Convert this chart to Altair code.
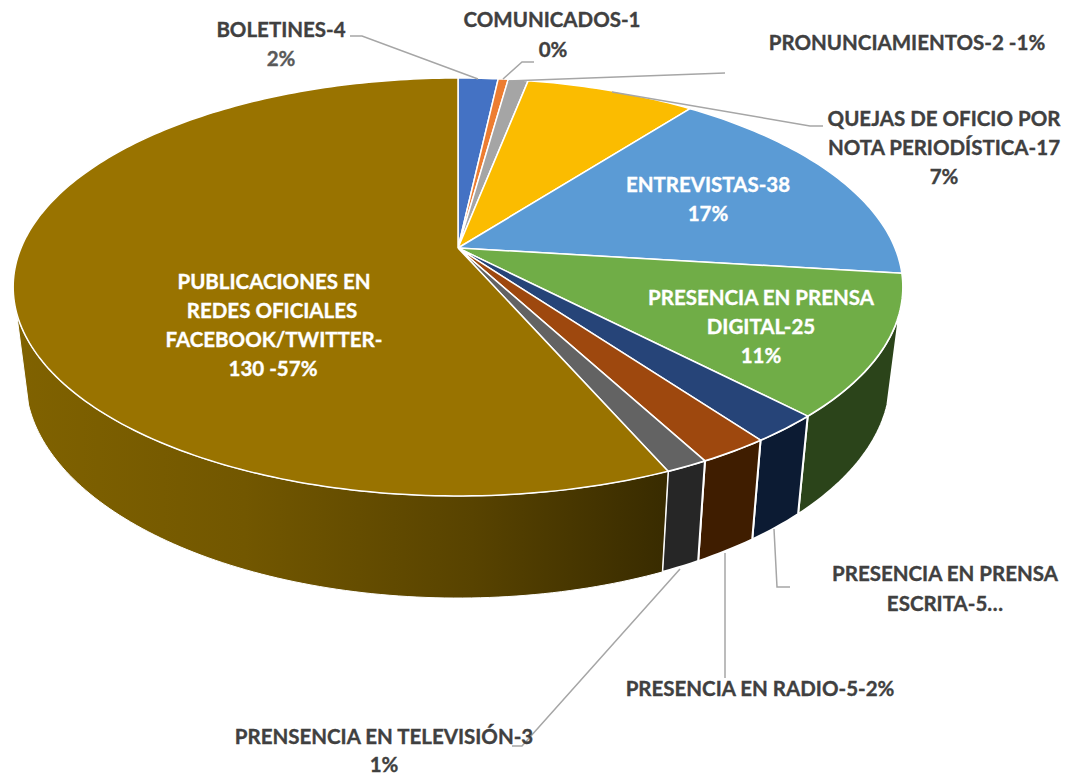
import math
import altair as alt
import pandas as pd

categories = ["BOLETINES", "COMUNICADOS", "PRONUNCIAMIENTOS", "QUEJAS DE OFICIO POR NOTA PERIODÍSTICA",
              "ENTREVISTAS", "PRESENCIA EN PRENSA DIGITAL", "PRESENCIA EN PRENSA ESCRITA",
              "PRESENCIA EN RADIO", "PRENSENCIA EN TELEVISIÓN", "PUBLICACIONES EN REDES OFICIALES"]
values = [4, 1, 2, 17, 38, 25, 5, 5, 3, 130]
top_colors = ["#4472C4", "#ED7D31", "#A5A5A5", "#FBBC00", "#5B9BD5", "#70AD47", "#264478", "#9E480E", "#636363", "#997300"]
wall_colors = [None, None, None, None, None, "#2B441A", "#0C1B33", "#3F1D00", "#262626", None]
gold_wall_stops = [(0.0, "#806200"), (0.35, "#725700"), (0.7, "#584300"), (1.0, "#382B00")]

LABELS = [
    ("BOLETINES-4", 281, 31, "#404040"), ("2%", 281, 60, "#595959"),
    ("COMUNICADOS-1", 552, 21, "#404040"), ("0%", 553, 51, "#404040"),
    ("PRONUNCIAMIENTOS-2 -1%", 907, 44, "#404040"),
    ("QUEJAS DE OFICIO POR", 944, 120, "#404040"), ("NOTA PERIODÍSTICA-17", 944, 149, "#404040"), ("7%", 944, 178, "#404040"),
    ("ENTREVISTAS-38", 708, 186, "white"), ("17%", 708, 215, "white"),
    ("PRESENCIA EN PRENSA", 761, 299, "white"), ("DIGITAL-25", 761, 328, "white"), ("11%", 761, 357, "white"),
    ("PUBLICACIONES EN", 274, 283, "white"), ("REDES OFICIALES", 272, 312, "white"),
    ("FACEBOOK/TWITTER-", 274, 341, "white"), ("130 -57%", 273, 370, "white"),
    ("PRESENCIA EN PRENSA", 945, 575, "#404040"), ("ESCRITA-5…", 945, 605, "#404040"),
    ("PRESENCIA EN RADIO-5-2%", 760, 690, "#404040"),
    ("PRENSENCIA EN TELEVISIÓN-3", 384, 738, "#404040"), ("1%", 384, 766, "#404040"),
]
LEADERS = [
    [(350, 36), (362, 36), (478, 79)],
    [(534, 62), (522, 62), (503, 79)],
    [(725, 73), (508, 81)],
    [(823, 126), (810, 126), (612, 92)],
    [(790, 587), (777, 587), (774, 529)],
    [(725, 553), (725, 678)],
    [(680, 569), (522, 746), (512, 746)],
]

W, H = 1056, 769
CX, CY_TOP, CY_BOT = 458, 248, 337.4
K, A_TOP, B_TOP, A_BOT, B_BOT = 0.1866, 437, 201.7, 425, 212
WALL_LIMIT = 107.5

x_scale = alt.Scale(domain=[8, 8 + W], nice=False, zero=False)
y_scale = alt.Scale(domain=[8 + H, 8], nice=False, zero=False)


def project(deg, a, b, cy):
    t = math.radians(deg)
    u, v = math.sin(t), -math.cos(t)
    d = 1 - K * v
    return CX + a * u / d, cy + b * v / d


def arc_angles(a0, a1):
    n = max(2, int(abs(a1 - a0)) + 2)
    return [a0 + (a1 - a0) * i / (n - 1) for i in range(n)]


def polygon(points, **mark):
    df = pd.DataFrame({"px": [p[0] for p in points], "py": [p[1] for p in points], "i": range(len(points))})
    return alt.Chart(df).mark_line(**mark).encode(
        x=alt.X("px:Q", scale=x_scale, axis=None),
        y=alt.Y("py:Q", scale=y_scale, axis=None),
        order=alt.Order("i:Q"),
    )


total = sum(values)
cum = [0]
for v in values:
    cum.append(cum[-1] + v)
angles = [c / total * 360 for c in cum]

layers = []
# side walls
for i, v in enumerate(values):
    a0, a1 = angles[i], angles[i + 1]
    if a1 <= 100:
        continue
    s, e = max(a0, WALL_LIMIT), min(a1, 360 - WALL_LIMIT)
    top = [project(a, A_TOP, B_TOP, CY_TOP) for a in arc_angles(s, e)]
    bot = [project(a, A_BOT, B_BOT, CY_BOT) for a in arc_angles(e, s)]
    pts = top + bot + [top[0]]
    if wall_colors[i] is None:
        fill = alt.Gradient(gradient="linear", x1=0, x2=1, y1=0, y2=0,
                            stops=[alt.GradientStop(offset=o, color=c) for o, c in gold_wall_stops])
        layers.append(polygon(pts, fill=fill, stroke="white", strokeWidth=1))
    else:
        layers.append(polygon(pts, fill=wall_colors[i], stroke="white", strokeWidth=2))

# top face
for i, v in enumerate(values):
    arc = [project(a, A_TOP, B_TOP, CY_TOP) for a in arc_angles(angles[i], angles[i + 1])]
    pts = [(CX, CY_TOP)] + arc + [(CX, CY_TOP)]
    layers.append(polygon(pts, fill=top_colors[i], stroke="white", strokeWidth=1.5, strokeJoin="round"))

# leader lines
for pts in LEADERS:
    layers.append(polygon(pts, stroke="#A6A6A6", strokeWidth=1.5))

# labels
for text, x, y, color in LABELS:
    layers.append(
        alt.Chart(pd.DataFrame({"t": [text]})).mark_text(
            font="Lato", fontWeight="bold", fontSize=20.5, color=color, stroke=color, strokeWidth=0.35,
            align="center", baseline="middle"
        ).encode(text="t:N", x=alt.value(x - 8), y=alt.value(y - 8))
    )

chart = alt.layer(*layers).properties(
    width=W, height=H, padding=0, autosize=alt.AutoSizeParams(type="none")
).configure_view(stroke=None)

chart.save("out.html", embed_options={"renderer": "svg", "actions": False})
